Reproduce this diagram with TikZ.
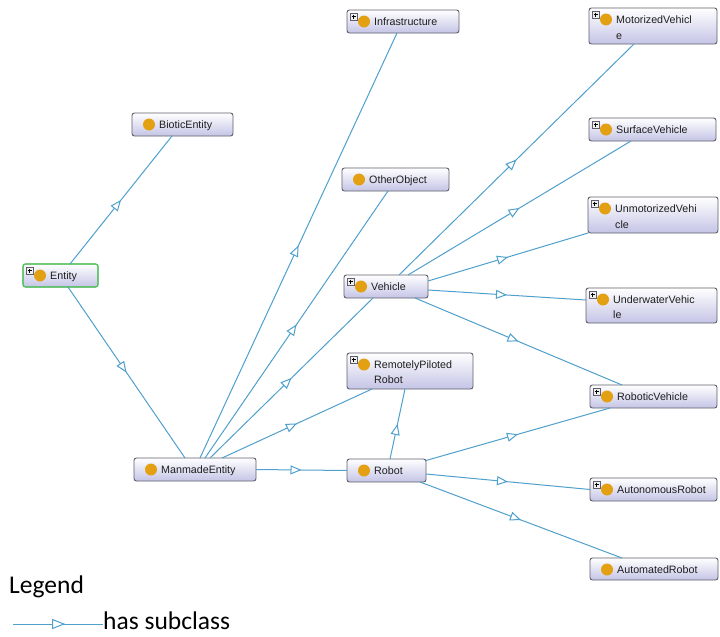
\documentclass[tikz,border=0pt]{standalone}
\usepackage{fontspec}
\setmainfont{Liberation Sans}
\newfontfamily\legendfont{Carlito}
\usetikzlibrary{arrows.meta,decorations.markings}

\definecolor{edgeblue}{RGB}{80,160,205}
\definecolor{boxline}{RGB}{95,95,108}
\definecolor{boxbottom}{RGB}{196,196,230}
\definecolor{dotorange}{RGB}{226,160,18}
\definecolor{selgreen}{RGB}{70,205,80}
\definecolor{labelgrey}{RGB}{30,30,30}

\tikzset{
  clsbox/.style={rectangle, rounded corners=2.5pt, draw=boxline, line width=0.9pt,
    top color=white, bottom color=boxbottom, inner sep=0pt, outer sep=0pt},
  clstext/.style={font=\fontsize{10.7}{12}\selectfont, text=labelgrey, inner sep=0pt, anchor=base west},
  subclass/.style={draw=edgeblue, line width=1pt, postaction={decorate},
    decoration={markings, mark=at position 0.5 with
      {\arrow{Triangle[length=11pt,width=9pt,fill=white]}}}},
  legendedge/.style={draw=edgeblue, line width=1pt, postaction={decorate},
    decoration={markings, mark=at position 0.58 with
      {\arrow{Triangle[length=13pt,width=10pt,fill=white]}}}},
  legendlabel/.style={font=\legendfont\fontsize{25.5}{28}\selectfont, anchor=base west, inner sep=0pt},
}

% small "+" expander square in the top-left corner of a class box
\newcommand\expanderbox[2]{%
  \draw[boxline, fill=white!88!gray, line width=0.5pt] ({#1+3},{#2+3}) rectangle ({#1+10},{#2+10});
  \draw[black, line width=0.6pt] ({#1+4.5},{#2+6.5}) -- ({#1+8.5},{#2+6.5})
                                 ({#1+6.5},{#2+4.5}) -- ({#1+6.5},{#2+8.5});}

% class box: name, x1, y1, x2, y2, label, expander flag
\newcommand\classbox[7]{%
  \node[clsbox, minimum width={#4-#2}, minimum height={#5-#3}] (#1) at ({(#2+#4)/2},{(#3+#5)/2}) {};
  \fill[dotorange] ({#2+17},{#3+11.5}) circle (6pt);
  \node[clstext] at ({#2+27},{#3+15.5}) {#6};
  \ifnum#7=1 \expanderbox{#2}{#3}\fi}

\begin{document}
\begin{tikzpicture}[x=1pt,y=-1pt]
\fill[white] (0,0) rectangle (720,637);
\useasboundingbox (0,0) rectangle (720,637);

% classes
\classbox{infra}{347}{10}{459}{33}{Infrastructure}{1}
\classbox{motor}{589}{8}{717}{44}{MotorizedVehicl}{1}
\node[clstext] at (616,39) {e};
\classbox{biotic}{132}{113}{233}{136}{BioticEntity}{0}
\classbox{surface}{589}{118}{716}{141}{SurfaceVehicle}{1}
\classbox{other}{342}{168}{449}{191}{OtherObject}{0}
\classbox{unmotor}{588}{197}{718}{233}{UnmotorizedVehi}{1}
\node[clstext] at (615,228) {cle};
\classbox{entity}{23}{264}{98}{287}{Entity}{1}
\draw[selgreen, line width=1.1pt, rounded corners=2.5pt] (entity.south west) rectangle (entity.north east);
\classbox{vehicle}{344}{275}{428}{298}{Vehicle}{1}
\classbox{underwater}{586}{288}{717}{323}{UnderwaterVehic}{1}
\node[clstext] at (613,318) {le};
\classbox{rpr}{347}{353}{473}{389}{RemotelyPiloted}{1}
\node[clstext] at (374,383) {Robot};
\classbox{robotic}{590}{385}{717}{408}{RoboticVehicle}{1}
\classbox{manmade}{134}{458}{256}{481}{ManmadeEntity}{0}
\classbox{robot}{347}{459}{426}{482}{Robot}{0}
\classbox{autonomous}{590}{478}{717}{501}{AutonomousRobot}{1}
\classbox{automated}{590}{558}{718}{580}{AutomatedRobot}{0}

% subclass relations
\path[subclass] ([xshift=9.5pt]entity.north) -- ([xshift=-10.5pt]biotic.south);
\path[subclass] ([xshift=7.5pt]entity.south) -- ([xshift=-10pt]manmade.north);
\path[subclass] ([xshift=5pt]manmade.north) -- ([xshift=-6pt]infra.south);
\path[subclass] ([xshift=10pt]manmade.north) -- ([xshift=-7.5pt]other.south);
\path[subclass] ([xshift=15pt]manmade.north) -- ([xshift=-13pt]vehicle.south);
\path[subclass] ([xshift=27pt]manmade.north) -- ([xshift=-38pt]rpr.south);
\path[subclass] (manmade.east) -- (robot.west);
\path[subclass] ([xshift=3.5pt]robot.north) -- ([xshift=-5pt]rpr.south);
\path[subclass] ([xshift=13pt]vehicle.north) -- ([xshift=-19pt]motor.south);
\path[subclass] ([xshift=22pt]vehicle.north) -- ([xshift=-21.5pt]surface.south);
\path[subclass] ([yshift=5.5pt]vehicle.east) -- (unmotor.south west);
\path[subclass] ([yshift=-3.5pt]vehicle.east) -- ([yshift=5.5pt]underwater.west);
\path[subclass] ([xshift=29pt]vehicle.south) -- ([xshift=-31.5pt]robotic.north);
\path[subclass] ([yshift=-1.5pt]robot.north east) -- ([xshift=-43.5pt]robotic.south);
\path[subclass] ([yshift=-3.5pt]robot.east) -- (autonomous.west);
\path[subclass] ([xshift=33.5pt]robot.south) -- ([xshift=-32pt]automated.north);

% legend
\node[legendlabel] (legendtitle) at (9,593) {Legend};
\coordinate (lgstart) at (13,624);
\coordinate (lgend) at (103,624);
\path[legendedge] (lgstart) -- (lgend);
\node[legendlabel] (lgtext) at (103,629) {has subclass};
\end{tikzpicture}
\end{document}
